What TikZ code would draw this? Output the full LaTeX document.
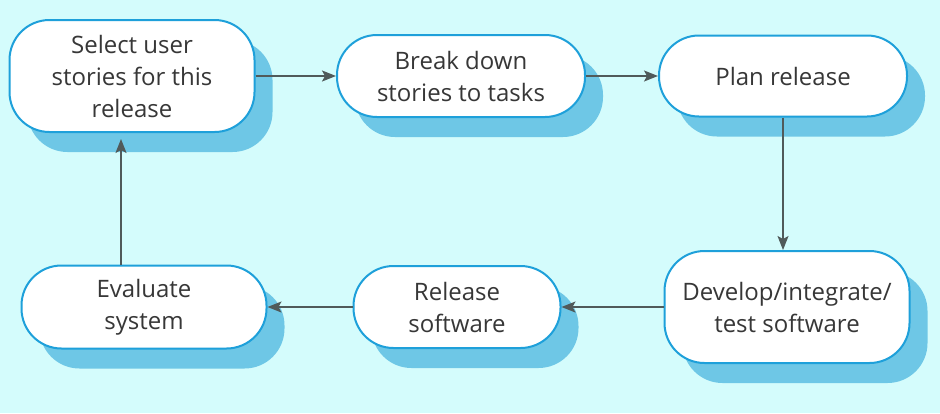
\documentclass[tikz,border=0pt]{standalone}
\usepackage{fontspec}
\setmainfont{Open Sans}
\usetikzlibrary{positioning,shadows,arrows.meta}
\definecolor{bgcyan}{RGB}{212,252,252}
\definecolor{boxblue}{RGB}{30,160,218}
\definecolor{shadeblue}{RGB}{110,199,230}
\definecolor{linegray}{RGB}{80,90,90}
\definecolor{textgray}{RGB}{55,55,55}

\begin{document}
\begin{tikzpicture}[
    x=0.5pt, y=-0.5pt,
    >={Stealth[length=7pt, width=5.5pt, inset=1.5pt]},
    flowbox/.style={
        draw=boxblue, line width=1pt, fill=white, rounded corners=20pt,
        align=center, text=textgray, inner sep=2pt,
        font=\fontsize{12}{16}\selectfont,
        drop shadow={shadow xshift=9pt, shadow yshift=-10pt, fill=shadeblue, opacity=1}
      },
    flow/.style={->, draw=linegray, line width=0.7pt},
  ]
  \fill[bgcyan] (0,0) rectangle (940,413);
  % top row
  \node[flowbox, minimum width=122.5pt, minimum height=56pt] (select) at (132,76) {Select user\\stories for this\\release};
  \node[flowbox, minimum width=124pt, minimum height=41pt] (break) at (461,76) {Break down\\stories to tasks};
  \node[flowbox, minimum width=124pt, minimum height=40.5pt] (plan) at (783,76) {Plan release};
  % bottom row
  \node[flowbox, minimum width=122.5pt, minimum height=56pt] (develop) at (787,307) {Develop/integrate/\\test software};
  \node[flowbox, minimum width=103.5pt, minimum height=41pt] (release) at (457,307) {Release\\software};
  \node[flowbox, minimum width=122.5pt, minimum height=41.5pt] (evaluate) at (144,307) {Evaluate\\system};
  \draw[flow] (select) -- (break);
  \draw[flow] (break) -- (plan);
  \draw[flow] (plan.south) -- (plan.south |- develop.north);
  \draw[flow] (develop) -- (release);
  \draw[flow] (release) -- (evaluate);
  \draw[flow, shorten >=3pt] ([xshift=-11.5pt]evaluate.north) -- ([xshift=-11.5pt]evaluate.north |- select.south);
\end{tikzpicture}
\end{document}
